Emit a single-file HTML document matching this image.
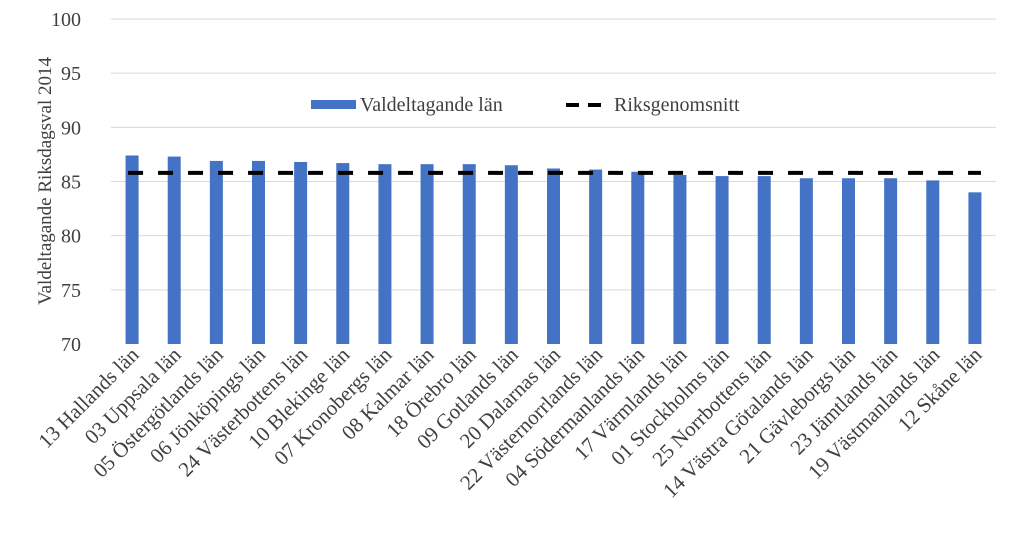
<!DOCTYPE html>
<html><head><meta charset="utf-8"><style>
body{margin:0;background:#fff;}
svg text{font-family:"Liberation Serif",serif;fill:#404040;}
</style></head><body>
<svg id="chart" width="1023" height="532" viewBox="0 0 1023 532" xmlns="http://www.w3.org/2000/svg">
<g id="grid"></g>
<g id="yticks"></g>
<g id="bars"></g>
<g id="avg"></g>
<g id="xlabels"></g>
<text transform="translate(51,181) rotate(-90)" text-anchor="middle" font-size="19">Valdeltagande Riksdagsval 2014</text>
<g>
<rect x="311" y="100" width="45" height="9" fill="#4472c4"/>
<text x="360" y="111" font-size="20">Valdeltagande län</text>
<line x1="566" y1="105" x2="610" y2="105" stroke="#000" stroke-width="4" stroke-dasharray="13,9"/>
<text x="614" y="111" font-size="20">Riksgenomsnitt</text>
</g>
</svg>
<script>
const categories=["13 Hallands län","03 Uppsala län","05 Östergötlands län","06 Jönköpings län","24 Västerbottens län","10 Blekinge län","07 Kronobergs län","08 Kalmar län","18 Örebro län","09 Gotlands län","20 Dalarnas län","22 Västernorrlands län","04 Södermanlands län","17 Värmlands län","01 Stockholms län","25 Norrbottens län","14 Västra Götalands län","21 Gävleborgs län","23 Jämtlands län","19 Västmanlands län","12 Skåne län"];
const values=[87.4,87.3,86.9,86.9,86.8,86.7,86.6,86.6,86.6,86.5,86.2,86.1,85.9,85.6,85.5,85.5,85.3,85.3,85.3,85.1,84.0];
const average=[85.8];
const yTicks=[70,75,80,85,90,95,100];
const NS="http://www.w3.org/2000/svg";
const x0=111,x1=996,yTop=19,yBot=344,vMin=70,vMax=100;
const step=(x1-x0)/categories.length;
function xc(i){return x0+step*(i+0.5);}
function y(v){return yBot-(v-vMin)/(vMax-vMin)*(yBot-yTop);}
function mk(t,a,p){const e=document.createElementNS(NS,t);for(const k in a)e.setAttribute(k,a[k]);p.appendChild(e);return e;}
const grid=document.getElementById('grid'),yt=document.getElementById('yticks');
yTicks.forEach(v=>{
 if(v>vMin){const l=mk('line',{x1:x0,x2:x1,y1:y(v),y2:y(v),stroke:'#d9d9d9','stroke-width':1},grid);
 
 }
 const t=mk('text',{x:81,y:y(v)+7,'text-anchor':'end','font-size':20},yt);t.textContent=v;
 
 
});
const bars=document.getElementById('bars'),xl=document.getElementById('xlabels');
categories.forEach((c,i)=>{
 const r=mk('rect',{x:xc(i)-6.5,y:y(values[i]),width:13,height:yBot-y(values[i]),fill:'#4472c4'},bars);
 
 
 const t=mk('text',{transform:`translate(${xc(i)+8},${yBot+12}) rotate(-45)`,'text-anchor':'end','font-size':21},xl);
 t.textContent=c;
 
 
});
const ag=document.getElementById('avg');
const al=mk('line',{x1:xc(0)-4,x2:xc(categories.length-1)+6,y1:y(average[0]),y2:y(average[0]),stroke:'#000','stroke-width':4,'stroke-dasharray':'15,15'},ag);


</script>
</body></html>
